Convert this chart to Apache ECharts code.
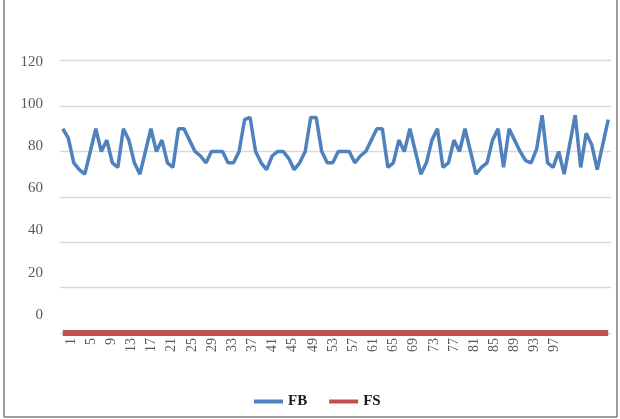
<!DOCTYPE html>
<html>
<head>
<meta charset="utf-8">
<style>html,body{margin:0;padding:0;background:#fff;}#c{width:620px;height:419px;}</style>
<script src="https://cdn.jsdelivr.net/npm/echarts@6/dist/echarts.min.js"></script>
</head>
<body>
<div id="c"></div>
<script>
var categories = [];
for (var i = 1; i <= 100; i++) categories.push(String(i));
var fbValues = [90,86,75,72,70,80,90,80,85,75,73,90,85,75,70,80,90,80,85,75,
                73,90,90,85,80,78,75,80,80,80,75,75,80,94,95,80,75,72,78,80,
                80,77,72,75,80,95,95,80,75,75,80,80,80,75,78,80,85,90,90,73,
                75,85,80,90,80,70,75,85,90,73,75,85,80,90,80,70,73,75,85,90,
                73,90,85,80,76,75,81,96,75,73,80,70,83,96,73,88,83,72,83,94];
var fsValues = [];
for (var j = 0; j < 100; j++) fsValues.push(0);
var yTickLabels = [0,20,40,60,80,100,120];
var xTickLabels = [];
for (var k = 1; k <= 97; k += 4) xTickLabels.push(k);

var chart = echarts.init(document.getElementById('c'));
var serif = '"Liberation Serif","Times New Roman",serif';
chart.setOption({
  animation: false,
  backgroundColor: '#fff',
  grid: {left: 60, right: 9, top: 60.7, bottom: 86},
  legend: {
    data: ['FB','FS'], left: 249, top: 389, itemWidth: 29, itemHeight: 4, itemGap: 22,
    icon: 'rect',
    textStyle: {fontFamily: serif, fontSize: 15, fontWeight: 'bold', color: '#1a1a1a'}
  },
  xAxis: [
    {type: 'category', data: categories, boundaryGap: true,
     axisLine: {show: false}, axisTick: {show: false}, axisLabel: {show: false}, splitLine: {show: false}},
    {type: 'value', min: -1.18, max: 108.15, position: 'bottom',
     axisLine: {show: false}, axisTick: {show: false}, splitLine: {show: false},
     axisLabel: {customValues: xTickLabels, rotate: 90, margin: 5, fontFamily: serif, fontSize: 14, color: '#595959'}}
  ],
  yAxis: [
    {type: 'value', min: 0, max: 120, interval: 20,
     axisLine: {show: false}, axisTick: {show: false}, axisLabel: {show: false},
     splitLine: {lineStyle: {color: '#d9d9d9', width: 1.3}}},
    {type: 'value', min: -8.53, max: 120.46, position: 'left',
     axisLine: {show: false}, axisTick: {show: false}, splitLine: {show: false},
     axisLabel: {customValues: yTickLabels, margin: 17, fontFamily: serif, fontSize: 15, color: '#595959'}}
  ],
  series: [
    {name: 'FB', type: 'line', data: fbValues, xAxisIndex: 0, yAxisIndex: 0, symbol: 'none',
     lineStyle: {color: '#4F81BD', width: 3.5}, itemStyle: {color: '#4F81BD'}, z: 3},
    {name: 'FS', type: 'line', data: fsValues, xAxisIndex: 0, yAxisIndex: 0, symbol: 'none',
     lineStyle: {color: '#C0504D', width: 6, cap: 'butt'}, itemStyle: {color: '#C0504D'}, z: 4}
  ],
  graphic: [
    {type: 'line', shape: {x1: 4, y1: 0, x2: 4, y2: 417}, style: {stroke: '#7f7f7f', lineWidth: 1.5}},
    {type: 'line', shape: {x1: 4, y1: 417, x2: 617, y2: 417}, style: {stroke: '#7f7f7f', lineWidth: 1.5}},
    {type: 'line', shape: {x1: 617, y1: 0, x2: 617, y2: 417}, style: {stroke: '#7f7f7f', lineWidth: 1.5}}
  ]
});
</script>
</body>
</html>
